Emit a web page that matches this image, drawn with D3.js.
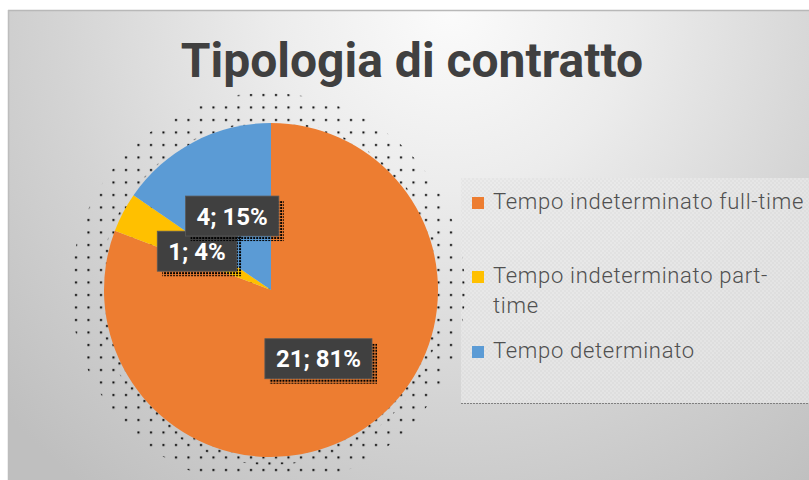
<!DOCTYPE html>
<html>
<head>
<meta charset="utf-8">
<script src="https://cdn.jsdelivr.net/npm/d3@7"></script>
<style>
  html, body { margin: 0; padding: 0; background: #fff; }
  svg { display: block; }
</style>
</head>
<body>
<svg id="chart"></svg>
<script>
// dati
const categories = ['Tempo indeterminato full-time', 'Tempo indeterminato part-time', 'Tempo determinato'];
const values = [21, 1, 4];
const colors = ['#ED7D31', '#FFC000', '#5B9BD5'];
const legendLines = [['Tempo indeterminato full-time'], ['Tempo indeterminato part-', 'time'], ['Tempo determinato']];
const title = 'Tipologia di contratto';

const width = 809, height = 480;
const cx = 271, cy = 290, radius = 167;

const svg = d3.select('#chart')
  .attr('width', width)
  .attr('height', height)
  .style('font-family', 'Roboto, sans-serif');

const defs = svg.append('defs');

// sfondo a gradiente radiale
const bg = defs.append('radialGradient')
  .attr('id', 'bg-grad')
  .attr('gradientUnits', 'userSpaceOnUse')
  .attr('cx', 450).attr('cy', 10).attr('r', 600);
bg.selectAll('stop')
  .data([
    { o: '0%', c: '#fbfbfb' },
    { o: '30%', c: '#ececec' },
    { o: '65%', c: '#d4d4d4' },
    { o: '100%', c: '#bfbfbf' }
  ])
  .join('stop')
  .attr('offset', d => d.o)
  .attr('stop-color', d => d.c);

// pattern a puntini per l'ombra della torta
const dots = defs.append('pattern')
  .attr('id', 'dots')
  .attr('patternUnits', 'userSpaceOnUse')
  .attr('width', 12.5).attr('height', 12.5);
dots.append('rect').attr('x', 4).attr('y', 4).attr('width', 2).attr('height', 2).attr('fill', '#000');

const dots2 = defs.append('pattern')
  .attr('id', 'dots2')
  .attr('patternUnits', 'userSpaceOnUse')
  .attr('x', 6).attr('y', 6)
  .attr('width', 12.5).attr('height', 12.5);
dots2.append('rect').attr('x', 4).attr('y', 4).attr('width', 2).attr('height', 2).attr('fill', '#000');

// pattern fitto per l'ombra delle etichette
const fine = defs.append('pattern')
  .attr('id', 'fine-dots')
  .attr('patternUnits', 'userSpaceOnUse')
  .attr('width', 3).attr('height', 3);
fine.append('rect').attr('width', 2).attr('height', 2).attr('fill', '#000');

// pattern leggero per il riquadro legenda
const check = defs.append('pattern')
  .attr('id', 'check')
  .attr('patternUnits', 'userSpaceOnUse')
  .attr('width', 4).attr('height', 4);
check.append('rect').attr('width', 4).attr('height', 4).attr('fill', '#e2e2e2');
check.append('rect').attr('width', 2).attr('height', 2).attr('fill', '#eaeaea');
check.append('rect').attr('x', 2).attr('y', 2).attr('width', 2).attr('height', 2).attr('fill', '#eaeaea');

// pannello
svg.append('rect')
  .attr('x', 8).attr('y', 10)
  .attr('width', width - 8).attr('height', height - 10)
  .attr('fill', 'url(#bg-grad)');
svg.append('line')
  .attr('x1', 8).attr('x2', width).attr('y1', 10.5).attr('y2', 10.5)
  .attr('stroke', '#b8b8b8').attr('stroke-width', 1.5);
svg.append('line')
  .attr('x1', 8.5).attr('x2', 8.5).attr('y1', 10).attr('y2', height)
  .attr('stroke', '#bdbdbd').attr('stroke-width', 1.5);

// titolo
svg.append('text')
  .attr('x', 412).attr('y', 77)
  .attr('text-anchor', 'middle')
  .attr('font-size', 48)
  .attr('font-weight', 700)
  .attr('fill', '#404040')
  .text(title);

// riquadro legenda
const legendBox = { x: 461, y: 178, w: width - 461, h: 225 };
svg.append('rect')
  .attr('x', legendBox.x).attr('y', legendBox.y)
  .attr('width', legendBox.w).attr('height', legendBox.h)
  .attr('fill', 'url(#check)')
  .attr('opacity', 0.75);
svg.append('line')
  .attr('x1', legendBox.x).attr('x2', width)
  .attr('y1', legendBox.y + legendBox.h + 0.5).attr('y2', legendBox.y + legendBox.h + 0.5)
  .attr('stroke', '#7f7f7f')
  .attr('stroke-dasharray', '2,1');

// torta
const pie = d3.pie().sort(null).value(d => d)(values);
const arc = d3.arc().innerRadius(0).outerRadius(radius);

const g = svg.append('g').attr('transform', `translate(${cx},${cy})`);

// ombra a puntini
g.append('circle').attr('r', radius + 30).attr('cx', -3).attr('cy', 0).attr('fill', 'url(#dots)');
g.append('circle').attr('r', radius + 5).attr('cx', 0).attr('cy', 3).attr('fill', 'url(#dots2)');

g.selectAll('path.slice')
  .data(pie)
  .join('path')
  .attr('class', 'slice')
  .attr('d', arc)
  .attr('fill', (d, i) => colors[i]);

// etichette dati
const total = d3.sum(values);
const pct = d3.format('.0%');
const labels = g.selectAll('g.label')
  .data(pie)
  .join('g')
  .attr('class', 'label')
  .attr('transform', d => {
    const [x, y] = arc.centroid(d);
    return `translate(${x},${y})`;
  });

const labelText = d => `${d.data}; ${pct(d.data / total)}`;

labels.each(function(d) {
  const lg = d3.select(this);
  const txt = lg.append('text')
    .attr('text-anchor', 'middle')
    .attr('dy', '0.36em')
    .attr('font-size', 24)
    .attr('font-weight', 700)
    .attr('fill', '#fff')
    .text(labelText(d));
  const w = txt.node().getComputedTextLength() + 22;
  const h = 40;
  lg.insert('rect', 'text')
    .attr('x', -w / 2 + 5).attr('y', -h / 2 + 5)
    .attr('width', w).attr('height', h)
    .attr('fill', 'url(#fine-dots)');
  lg.insert('rect', 'text')
    .attr('x', -w / 2).attr('y', -h / 2)
    .attr('width', w).attr('height', h)
    .attr('fill', '#404040')
    .attr('stroke', '#5a5a5a')
    .attr('stroke-width', 0.8);
});

// legenda
const legend = svg.append('g').attr('transform', 'translate(472,0)');
const legendY = [209, 283, 358];
const items = legend.selectAll('g.item')
  .data(categories)
  .join('g')
  .attr('class', 'item')
  .attr('transform', (d, i) => `translate(0,${legendY[i]})`);

items.append('rect')
  .attr('x', 0).attr('y', -12)
  .attr('width', 12).attr('height', 12)
  .attr('fill', (d, i) => colors[i]);

items.append('text')
  .attr('x', 21)
  .attr('font-size', 22)
  .attr('font-weight', 300)
  .attr('letter-spacing', 0.7)
  .attr('fill', '#505050')
  .selectAll('tspan')
  .data((d, i) => legendLines[i])
  .join('tspan')
  .attr('x', 21)
  .attr('dy', (d, j) => j === 0 ? 0 : 30)
  .text(d => d);
</script>
</body>
</html>
